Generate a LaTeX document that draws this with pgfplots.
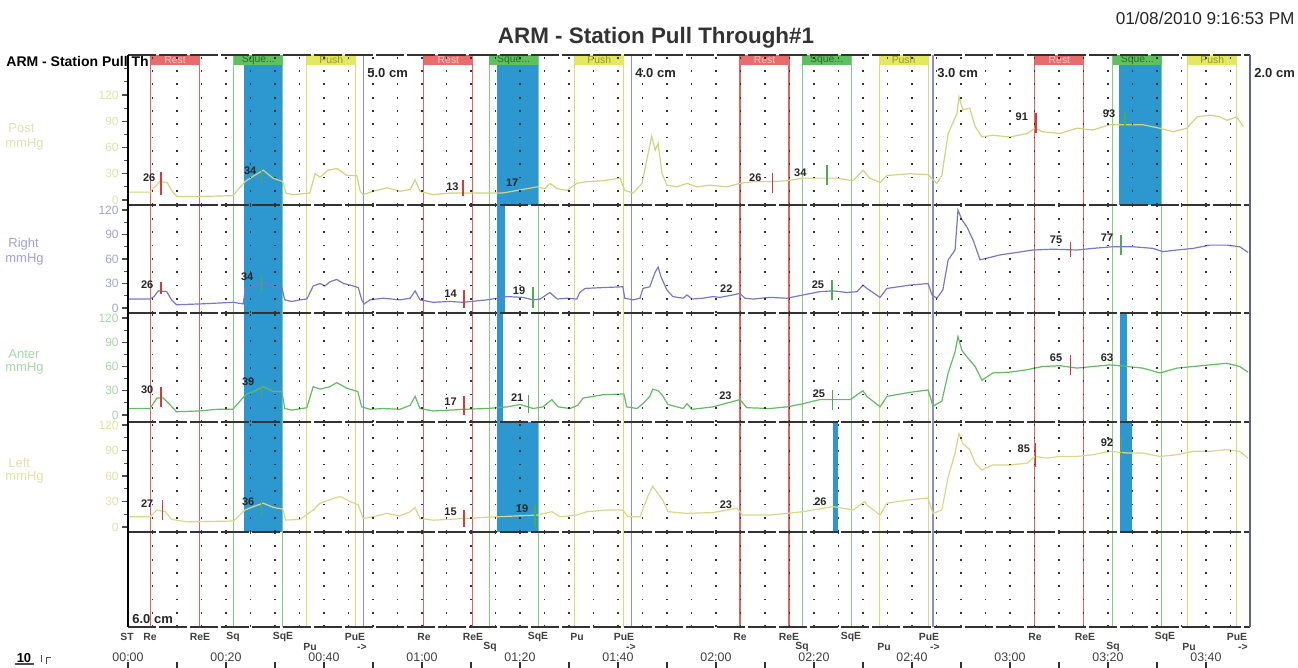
\documentclass[border=0pt]{standalone}
\usepackage{pgfplots}
\pgfplotsset{compat=1.18}
\usepackage{pgfplotstable}
\usepackage{fontspec}
\setmainfont{Liberation Sans}

\definecolor{postc}{RGB}{205,212,130}
\definecolor{postlab}{RGB}{222,226,170}
\definecolor{rightc}{RGB}{120,120,200}
\definecolor{rightlab}{RGB}{160,160,220}
\definecolor{anterc}{RGB}{100,185,100}
\definecolor{anterlab}{RGB}{165,215,165}
\definecolor{leftc}{RGB}{215,215,140}
\definecolor{leftlab}{RGB}{225,225,165}
\definecolor{restc}{RGB}{225,100,100}
\definecolor{sqc}{RGB}{130,205,130}
\definecolor{puc}{RGB}{215,220,120}
\definecolor{stc}{RGB}{140,140,210}
\definecolor{sqblue}{RGB}{45,152,208}
\definecolor{restbox}{RGB}{232,108,108}
\definecolor{restboxt}{RGB}{250,200,200}
\definecolor{sqbox}{RGB}{96,192,96}
\definecolor{sqboxt}{RGB}{40,110,40}
\definecolor{pubox}{RGB}{228,232,96}
\definecolor{puboxt}{RGB}{150,150,40}
\definecolor{restmk}{RGB}{210,60,60}
\definecolor{sqmk}{RGB}{80,170,80}

\pgfplotstableread{
t v
0 9
4.5 9
5.5 15
6.5 21
8.0 20
9.0 10
10.0 4
14.7 4
21.4 5
23.9 21
25.5 27
27.6 34
29.6 25
31.6 21
32.2 8
33.7 6
37.1 8
38.2 30
39.2 26
40.8 34
42.7 36
44.7 28
46.7 28
47.4 10
48.0 6
50.0 10
52.9 14
55.5 10
57.6 12
58.6 23
59.6 10
62.2 6
65.7 8
73.3 8
76.5 8
83.5 15
85.1 13
86.1 19
87.6 13
89.6 11
91.6 19
93.7 21
96.9 22
100.4 25
101.4 11
103.1 8
104.9 19
105.9 46
106.9 73
107.6 57
108.2 65
109.0 30
110.0 17
112.0 15
114.1 19
116.1 15
118.8 17
122.2 15
124.9 19
127.6 21
131.0 21
134.5 22
137.8 25
141.2 25
144.7 25
148.0 22
150.0 34
151.4 25
153.5 20
154.9 28
159.6 30
163.3 29
165.1 19
166.1 28
167.4 76
169.2 99
169.6 118
170.4 103
171.8 105
172.9 84
174.3 72
176.5 74
180.0 72
183.5 76
185.1 82
186.7 78
190.2 76
193.7 82
196.9 80
200.4 86
203.9 86
207.1 86
210.6 82
213.3 78
216.1 82
218.2 95
220.8 97
222.9 95
224.3 91
226.3 95
227.6 84
}\posttab

\pgfplotstableread{
t v
0 11
4.5 11
5.3 14
6.2 21
7.9 20
8.9 10
9.9 4
14.7 5
18.2 6
21.4 7
23.5 5
24.0 24
25.5 27
27.6 31
29.6 27
31.4 25
32.0 10
33.4 8
35.1 10
36.5 11
37.8 27
39.2 30
40.2 27
41.2 32
42.6 35
44.0 30
46.0 27
47.0 25
47.7 10
48.2 5
49.4 10
52.1 12
55.5 10
57.6 12
58.6 21
59.6 10
62.3 7
65.7 8
68.4 7
73.3 10
75.3 12
77.4 14
80.6 13
82.7 10
84.1 11
86.1 19
87.6 11
89.6 12
91.6 11
92.2 19
93.3 24
96.9 25
101.0 26
101.4 12
103.1 10
104.5 12
105.1 24
106.5 26
107.6 44
108.2 50
108.8 38
110.0 22
111.2 14
113.3 12
114.1 16
115.1 11
117.3 12
119.4 14
120.8 13
123.5 16
124.9 18
125.9 12
127.6 11
131.0 13
134.5 12
137.8 16
141.2 20
143.9 21
146.7 19
148.8 20
150.0 28
150.8 24
153.5 13
154.9 24
159.6 28
163.3 30
164.1 16
165.1 12
166.3 22
167.4 59
168.8 71
169.4 120
170.2 108
171.2 99.5
172.5 83
173.9 59
175.3 61
178.0 65
181.4 68
184.7 71
188.8 72
193.7 71
196.9 73
201.0 75
205.1 75
209.2 73
211.2 69
214.1 71
217.4 73
220.8 77
224.3 77
226.9 75
228.6 68
}\righttab

\pgfplotstableread{
t v
0 8
4.5 8
5.9 21
7.2 21
8.2 15
9.9 4
14.7 5
18.2 7
21.4 7
24.0 25
25.6 29
27.6 35
29.7 29
31.4 29
32.0 8
33.4 6
36.5 9
37.8 35
39.2 32
41.2 35
42.6 40
44.7 33
46.9 29
47.7 10
49.4 7
52.1 8
55.5 7
57.6 12
58.6 23
59.6 8
62.3 5
65.7 6
68.4 7
73.3 8
77.4 10
80.0 13
82.7 8
84.7 10
86.5 19
87.8 10
90.2 8
91.8 12
92.9 21
96.9 25
101.2 26
101.8 10
103.9 8
105.1 14
106.5 23
107.1 32
108.2 30
109.0 25
110.2 13
113.3 8
114.1 14
115.1 7
119.4 10
124.9 19
126.3 9
131.0 8
134.5 10
137.8 14
141.2 19
143.9 19
147.4 19
150.0 30
150.8 23
153.5 10
154.9 23
159.6 28
163.3 31
164.3 11
166.1 17
167.4 52
168.8 78
169.4 97
170.2 80
171.2 72
172.9 60
174.3 43
176.5 52
180.0 53
183.5 56
186.7 60
190.2 61
193.7 58
196.9 60
200.4 62
203.9 60
207.1 58
210.6 52
214.1 58
217.4 60
220.8 62
224.3 64
226.9 60
228.6 53
}\antertab

\pgfplotstableread{
t v
0 12
4.5 12
5.9 20
7.6 18
8.9 9
12.0 6
21.5 7
23.9 20
25.6 24
27.6 28
29.7 23
31.6 21
32.2 8
35.1 9
37.8 20
39.2 28
41.2 32
43.3 36
45.3 30
47.0 26
48.0 10
50.1 12
52.8 16
55.5 13
57.6 18
58.6 23
59.6 10
62.3 8
65.7 9
68.4 10
75.3 12
83.5 14
86.5 18
88.2 12
91.6 14
93.7 18
97.8 20
101.0 20
102.0 12
104.5 12
106.1 36
107.1 48
108.2 39
109.2 31
110.2 18
114.1 16
119.4 17
124.3 22
125.5 14
131.0 14
137.8 18
143.9 24
148.0 20
150.4 30
150.8 26
153.5 14
154.9 28
159.6 32
163.3 34
164.3 16
166.1 20
167.4 59
168.8 87
169.6 110
170.4 98
171.8 91
172.9 75
174.3 67
176.5 73
180.0 73
183.5 75
185.1 83
187.6 81
190.2 83
193.7 83
196.9 85
200.4 89
203.9 87
207.1 87
210.6 83
214.1 85
217.4 89
220.8 89
224.3 91
226.9 89
228.6 81
}\lefttab

\pgfplotsset{
 panel/.style={
  scale only axis, width=561pt, anchor=north west,
  xmin=0, xmax=229,
  axis line style={draw=none},
  xtick={5,10,...,225}, xmajorticks=false, xticklabels={},
  xmajorgrids, ymajorgrids=false,
  major grid style={draw=black!80, line width=0.9pt, dash pattern=on 0.9pt off 5.75pt},
  axis on top,
  ytick={0,30,60,90,120}, minor ytick={15,45,75,105},
  ytick pos=left, tick align=outside,
  major tick length=3pt, minor tick length=2pt,
  every tick/.style={black!70, line width=0.6pt},
  yticklabel style={font=\fontsize{6}{6}\selectfont, inner sep=1.5pt},
  /pgf/number format/assume math mode=true,
 },
}

\newcommand\vl[2]{\pgfplotsinvokeforeach{#2}{\draw[#1] ({axis cs:##1,0}|-{rel axis cs:0,0}) -- ({axis cs:##1,0}|-{rel axis cs:0,1});}}
\newcommand\events{%
 \vl{restc,line width=0.55pt}{4.6,14.6,60.4,70.4,124.9,134.9,185.1,195.1}%
 \vl{sqc,line width=0.55pt}{21.6,31.6,73.7,83.7,137.6,147.6,201.0,211.0}%
 \vl{puc,line width=0.55pt}{36.5,46.5,91.2,101.2,153.3,163.3,216.3,226.3}%
 \vl{stc,line width=0.55pt}{48.0,102.7,164.3}%
}
\newcommand\bfill[2]{\fill[sqblue] ({axis cs:#1,0}|-{rel axis cs:0,0}) rectangle ({axis cs:#2,0}|-{rel axis cs:0,1});}
\newcommand\mk[4]{\addplot[#1,line width=0.7pt] coordinates {(#2,#3) (#2,#4)};}
\newcommand\vlab[3]{\node[font=\bfseries\fontsize{5.5}{5.5}\selectfont, anchor=east, inner sep=0.6pt, text=black!85] at (axis cs:#1,#2) {#3};}
\newcommand\lbox[6]{%
 \fill[#3] ({axis cs:#1,0}|-{rel axis cs:0,0.933}) rectangle ({axis cs:#2,0}|-{rel axis cs:0,1});
 \node[text=#4, font=\fontsize{5.2}{5.2}\selectfont, inner sep=0pt] at ({axis cs:#5,0}|-{rel axis cs:0,0.966}) {#6};}

\begin{document}
\begin{tikzpicture}
\useasboundingbox (0pt,0pt) rectangle (649pt,-334pt);

% ---------------- Post ----------------
\begin{axis}[panel, at={(64pt,-27.5pt)}, height=75pt, ymin=-5.7, ymax=165.7,
  minor ytick={15,45,75,105,135,150}, yticklabel style={text=postlab}]
\bfill{23.7}{31.6}\bfill{75.3}{83.7}\bfill{202.2}{211.0}
\events
\addplot[postc, line width=0.6pt] table[x=t,y=v] {\posttab};
\mk{restmk}{6.7}{6}{32}\vlab{5.9}{26}{26}
\mk{sqmk}{27.3}{19}{39}\vlab{26.5}{34}{34}
\mk{restmk}{68.4}{5}{23}\vlab{67.8}{15}{13}
\vlab{80.0}{20}{17}
\mk{restmk}{131.6}{8}{31}\vlab{129.6}{25}{26}
\mk{sqmk}{142.7}{17}{40}\vlab{138.8}{31}{34}
\mk{restmk}{185.3}{77}{99}\vlab{184.0}{95}{91}
\mk{sqmk}{203.5}{82}{99}\vlab{201.8}{99}{93}
\lbox{4.6}{14.6}{restbox}{restboxt}{9.6}{Rest}
\lbox{21.6}{31.6}{sqbox}{sqboxt}{26.6}{Sque...}
\lbox{36.5}{46.5}{pubox}{puboxt}{41.5}{Push}
\lbox{60.4}{70.4}{restbox}{restboxt}{65.4}{Rest}
\lbox{73.7}{83.7}{sqbox}{sqboxt}{78.7}{Sque...}
\lbox{91.2}{101.2}{pubox}{puboxt}{96.2}{Push}
\lbox{124.9}{134.9}{restbox}{restboxt}{129.9}{Rest}
\lbox{137.6}{147.6}{sqbox}{sqboxt}{142.6}{Sque...}
\lbox{153.3}{163.3}{pubox}{puboxt}{158.3}{Push}
\lbox{185.1}{195.1}{restbox}{restboxt}{190.1}{Rest}
\lbox{201.0}{211.0}{sqbox}{sqboxt}{206.0}{Sque...}
\lbox{216.3}{226.3}{pubox}{puboxt}{221.3}{Push}
\end{axis}

% ---------------- Right ----------------
\begin{axis}[panel, at={(64pt,-102.5pt)}, height=54pt, ymin=-6.1, ymax=126.1,
  yticklabel style={text=rightlab}]
\bfill{23.7}{31.6}\bfill{75.3}{76.9}
\events
\addplot[rightc, line width=0.6pt] table[x=t,y=v] {\righttab};
\mk{restmk}{6.7}{17}{32}\vlab{5.5}{28}{26}
\mk{sqmk}{27.3}{18}{40}\vlab{25.9}{38}{34}
\mk{restmk}{68.6}{0}{22}\vlab{67.4}{17}{14}
\mk{sqmk}{82.7}{0}{26}\vlab{81.4}{21}{19}
\vlab{123.7}{24}{22}
\mk{sqmk}{143.7}{10}{34}\vlab{142.4}{28}{25}
\mk{restmk}{192.4}{63}{81}\vlab{191.0}{84}{75}
\mk{sqmk}{202.7}{65}{89}\vlab{201.4}{86}{77}
\end{axis}

% ---------------- Anter ----------------
\begin{axis}[panel, at={(64pt,-156.5pt)}, height=54.5pt, ymin=-8.7, ymax=126.2,
  yticklabel style={text=anterlab}]
\bfill{23.7}{31.6}\bfill{75.3}{76.5}\bfill{202.4}{203.9}
\events
\addplot[anterc, line width=0.6pt] table[x=t,y=v] {\antertab};
\mk{restmk}{6.7}{10}{35}\vlab{5.5}{31}{30}
\mk{sqmk}{27.3}{21}{37}\vlab{26.1}{41}{39}
\mk{restmk}{68.6}{0}{23}\vlab{67.4}{16}{17}
\mk{sqmk}{81.8}{2}{25}\vlab{81.0}{21}{21}
\vlab{123.5}{23.5}{23}
\mk{sqmk}{143.8}{6}{31}\vlab{142.6}{26}{25}
\mk{restmk}{192.4}{50}{74}\vlab{191.0}{70.5}{65}
\vlab{201.4}{70.5}{63}
\end{axis}

% ---------------- Left ----------------
\begin{axis}[panel, at={(64pt,-211pt)}, height=55pt, ymin=-5.9, ymax=123.5,
  yticklabel style={text=leftlab}]
\bfill{23.7}{31.6}\bfill{75.3}{83.7}\bfill{143.9}{144.9}\bfill{202.4}{204.9}
\events
\addplot[leftc, line width=0.6pt] table[x=t,y=v] {\lefttab};
\mk{restmk}{7.0}{8}{32}\vlab{5.5}{28}{27}
\mk{sqmk}{27.3}{14}{32}\vlab{26.1}{30}{36}
\mk{restmk}{68.6}{0}{20}\vlab{67.4}{18}{15}
\mk{sqmk}{83.1}{0}{26}\vlab{82.0}{22}{19}
\vlab{123.6}{26}{23}
\vlab{142.9}{30}{26}
\mk{restmk}{185.2}{71}{99}\vlab{184.4}{92}{85}
\mk{sqmk}{202.8}{81}{105}\vlab{201.4}{99}{92}
\end{axis}

% ---------------- empty bottom panel ----------------
\begin{axis}[panel, at={(64pt,-266pt)}, height=47.5pt, ymin=0, ymax=1,
  ytick=\empty, minor ytick={}]
\events
\addplot[draw=none] coordinates {(0,0) (229,1)};
\end{axis}

% ---------------- time axis ----------------
\begin{axis}[scale only axis, width=561pt, height=3pt, anchor=north west, at={(64pt,-332pt)},
 xmin=0, xmax=229, ymin=0, ymax=1, axis line style={draw=none}, ytick=\empty,
 xtick={0,20,...,220}, minor xtick={10,30,...,210},
 xticklabels={00:00,00:20,00:40,01:00,01:20,01:40,02:00,02:20,02:40,03:00,03:20,03:40},
 xtick pos=left, xticklabel pos=right, tick align=inside,
 major tick length=4pt, minor tick length=4pt,
 every tick/.style={black!80, line width=0.6pt},
 xticklabel style={font=\fontsize{6.2}{6.2}\selectfont, text=black!75, inner sep=1pt}]
\addplot[draw=none] coordinates {(0,0) (229,1)};
\end{axis}

\begin{scope}[x=0.5pt,y=-0.5pt]
% titles
\node[font=\bfseries\fontsize{11.2}{12}\selectfont, text=black!80] at (656,38) {ARM - Station Pull Through\#1};
\node[anchor=east, font=\fontsize{8.6}{9}\selectfont, text=black!85, inner sep=0pt] at (1295,18) {01/08/2010 9:16:53 PM};
\node[anchor=west, font=\bfseries\fontsize{7}{7}\selectfont, inner sep=0pt] at (6,62) {ARM - Station Pull Th};
% panel names
\begin{scope}[every node/.style={anchor=west, inner sep=0pt, font=\fontsize{6.5}{6.5}\selectfont}]
\node[text=postlab] at (8,128) {Post};
\node[text=postlab] at (5,144) {mmHg};
\node[text=rightlab] at (8,244) {Right};
\node[text=rightlab] at (5,259) {mmHg};
\node[text=anterlab] at (8,354) {Anter};
\node[text=anterlab] at (5,368) {mmHg};
\node[text=leftlab] at (8,463) {Left};
\node[text=leftlab] at (5,477) {mmHg};
\end{scope}
% separators and borders
\foreach \y in {55,205,313,422,532,627}
  \draw[line width=1pt, black!80, dash pattern=on 14pt off 1.5pt] (128,\y) -- (1250,\y);
\draw[line width=1.2pt, black] (128,55) -- (128,627);
\draw[line width=1.4pt, stc!70!black] (1250,55) -- (1250,627);
% station labels
\begin{scope}[every node/.style={anchor=west, inner sep=0pt, font=\bfseries\fontsize{6.5}{6.5}\selectfont, text=black!85}]
\node at (367,73) {5.0 cm};
\node at (635,73) {4.0 cm};
\node at (937,73) {3.0 cm};
\node at (1254,73) {2.0 cm};
\node at (132,619) {6.0 cm};
\end{scope}
% event labels under the chart
\begin{scope}[every node/.style={inner sep=0pt, font=\bfseries\fontsize{5.2}{5.2}\selectfont, text=black!75}]
\node at (127,637) {ST};
\node at (150,637) {Re};
\node at (200,637) {ReE};
\node at (233,637) {Sq};
\node at (283,637) {SqE};
\node at (310,647) {Pu};
\node at (355,637) {PuE};
\node at (362,647) {->};
\node at (424,637) {Re};
\node at (473,637) {ReE};
\node at (490,647) {Sq};
\node at (538,637) {SqE};
\node at (577,637) {Pu};
\node at (624,637) {PuE};
\node at (631,647) {->};
\node at (740,637) {Re};
\node at (789,637) {ReE};
\node at (802,647) {Sq};
\node at (851,637) {SqE};
\node at (884,647) {Pu};
\node at (929,637) {PuE};
\node at (935,647) {->};
\node at (1035,637) {Re};
\node at (1085,637) {ReE};
\node at (1113,647) {Sq};
\node at (1165,637) {SqE};
\node at (1189,647) {Pu};
\node at (1237,637) {PuE};
\node at (1243,647) {->};
\end{scope}
% scale marker at bottom left
\node[font=\bfseries\fontsize{6.5}{6.5}\selectfont, inner sep=0pt] at (24,658) {10};
\draw[line width=0.6pt, black!70] (15,664) -- (34,664);
\draw[line width=0.5pt, black!70] (41,655) -- (41,662);
\draw[line width=0.5pt, black!70] (46,664) -- (46,658) -- (51,658);
\end{scope}
\end{tikzpicture}
\end{document}
